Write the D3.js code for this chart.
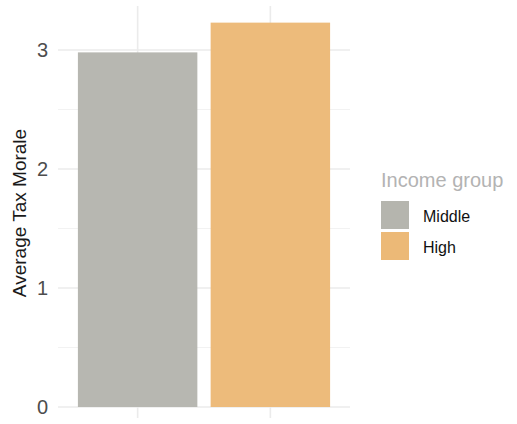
<!DOCTYPE html>
<html><head><meta charset="utf-8">
<script src="https://cdn.jsdelivr.net/npm/d3@7"></script>
<style>body{margin:0;background:#fff}svg{display:block}text{font-family:"Liberation Sans",Arial,sans-serif}</style>
</head><body><div id="chart"></div>
<script>
const categories = ["Middle", "High"];
const values = [2.98, 3.23];
const colors = ["#b5b5ae", "#ecb977"];
const yTicks = [0, 1, 2, 3];
const legendTitle = "Income group";
const yTitle = "Average Tax Morale";

const W = 517, H = 424;
const svg = d3.select("#chart").append("svg").attr("width", W).attr("height", H);
const panel = {left: 58, right: 350, top: 6, bottom: 418};

const x = d3.scaleBand().domain(categories).range([panel.left, panel.right]).paddingInner(0.1).paddingOuter(0.15);
const y = d3.scaleLinear().domain([0, 3]).range([407, 50]);

const g = svg.append("g");
const minor = [0.5, 1.5, 2.5];
g.selectAll(".minor").data(minor).enter().append("line")
  .attr("x1", panel.left).attr("x2", panel.right)
  .attr("y1", d => y(d)).attr("y2", d => y(d))
  .attr("stroke", "#f2f2f2").attr("stroke-width", 1.2);
g.selectAll(".major").data(yTicks).enter().append("line")
  .attr("x1", panel.left).attr("x2", panel.right)
  .attr("y1", d => y(d)).attr("y2", d => y(d))
  .attr("stroke", "#ebebeb").attr("stroke-width", 1.6);
g.selectAll(".vgrid").data(categories).enter().append("line")
  .attr("x1", d => x(d) + x.bandwidth()/2).attr("x2", d => x(d) + x.bandwidth()/2)
  .attr("y1", panel.top).attr("y2", panel.bottom)
  .attr("stroke", "#ebebeb").attr("stroke-width", 1.6);

g.selectAll(".bar").data(categories).enter().append("rect")
  .attr("x", d => x(d)).attr("width", x.bandwidth())
  .attr("y", (d, i) => y(values[i])).attr("height", (d, i) => y(0) - y(values[i]))
  .attr("fill", (d, i) => colors[i]).attr("fill-opacity", 0.97);

g.selectAll(".tick").data(yTicks).enter().append("text")
  .attr("x", 48).attr("y", d => y(d)).attr("dy", "0.36em")
  .attr("text-anchor", "end").attr("font-size", 20).attr("fill", "#4d4d4d")
  .text(d => d);

svg.append("text")
  .attr("transform", `translate(26,213) rotate(-90)`)
  .attr("text-anchor", "middle").attr("font-size", 19).attr("fill", "#1a1a1a")
  .text(yTitle);

const lg = svg.append("g").attr("transform", "translate(381,0)");
lg.append("text").attr("x", 0).attr("y", 187).attr("font-size", 20).attr("fill", "#b3b3b3").text(legendTitle);
categories.forEach((c, i) => {
  lg.append("rect").attr("x", 0).attr("y", 201 + i * 31).attr("width", 28).attr("height", 28)
    .attr("fill", colors[i]);
  lg.append("text").attr("x", 42).attr("y", 216 + i * 31).attr("dy", "0.36em")
    .attr("font-size", 16).attr("fill", "#111").text(c);
});
</script></body></html>
